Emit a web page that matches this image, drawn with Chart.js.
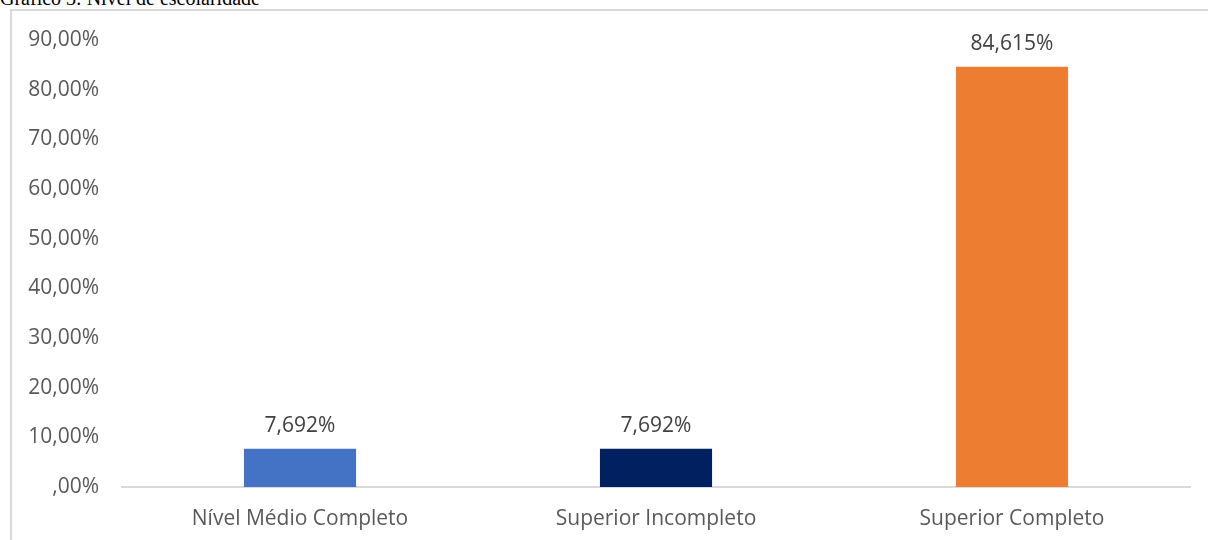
<!DOCTYPE html>
<html lang="pt">
<head>
<meta charset="utf-8">
<title>Gráfico 3: Nível de escolaridade</title>
<script src="https://cdn.jsdelivr.net/npm/chart.js@4.4.1/dist/chart.umd.min.js"></script>
<style>
  html, body { margin: 0; padding: 0; background: #ffffff; }
  body { width: 1208px; height: 540px; position: relative; overflow: hidden; }
  #caption {
    position: absolute; left: 0; top: -12px;
    font-family: "Liberation Serif", "Times New Roman", serif;
    font-size: 20px; line-height: 20px; color: #000; white-space: nowrap;
  }
  #frame {
    position: absolute; left: 10px; top: 9px; width: 1220px; height: 560px;
    border-left: 2px solid #d9d9d9; border-top: 2px solid #d9d9d9;
    box-sizing: border-box;
  }
  #wrap { position: absolute; left: 0; top: 0; width: 1208px; height: 540px; }
</style>
</head>
<body>
<div id="caption">Gráfico 3: Nível de escolaridade</div>
<div id="frame"></div>
<div id="wrap"><canvas id="chart" width="1208" height="540"></canvas></div>
<script>
// Escolaridade dos respondentes (percentual)
const categories = ["Nível Médio Completo", "Superior Incompleto", "Superior Completo"];
const percentValues = [7.692, 7.692, 84.615];
const barColors = ["#4472C4", "#002060", "#ED7D31"];
const yTicks = [0, 10, 20, 30, 40, 50, 60, 70, 80, 90];

const labelFont = '"Open Sans", "Noto Sans", sans-serif';
const labelSize = 21;

function formatTick(v) {
  if (v === 0) return ",00%";
  return v.toFixed(2).replace(".", ",") + "%";
}
function formatValue(v) {
  return v.toFixed(3).replace(".", ",") + "%";
}

// Writes each bar's value above it
const valueLabels = {
  id: "valueLabels",
  afterDatasetsDraw(chart) {
    const ctx = chart.ctx;
    const meta = chart.getDatasetMeta(0);
    ctx.save();
    ctx.font = labelSize + "px " + labelFont;
    ctx.fillStyle = "#404040";
    ctx.textAlign = "center";
    ctx.textBaseline = "middle";
    meta.data.forEach((bar, i) => {
      ctx.fillText(formatValue(chart.data.datasets[0].data[i]), bar.x, bar.y - 23);
    });
    ctx.restore();
  }
};

new Chart(document.getElementById("chart"), {
  type: "bar",
  data: {
    labels: categories,
    datasets: [{
      data: percentValues,
      backgroundColor: barColors,
      borderWidth: 0,
      categoryPercentage: 1,
      barPercentage: 0.315
    }]
  },
  options: {
    responsive: false,
    animation: false,
    devicePixelRatio: 1,
    layout: { padding: { top: 40, right: 18, left: 0, bottom: 0 } },
    plugins: { legend: { display: false }, tooltip: { enabled: false }, title: { display: false } },
    scales: {
      x: {
        grid: { display: false, drawTicks: false },
        border: { display: true, color: "#d9d9d9", width: 2 },
        ticks: { color: "#595959", font: { family: labelFont, size: labelSize }, padding: 19, maxRotation: 0 },
        afterFit(scale) { scale.height = 53; }
      },
      y: {
        min: 0,
        max: 90,
        grid: { display: false, drawTicks: false },
        border: { display: false },
        afterBuildTicks(scale) { scale.ticks = yTicks.map(v => ({ value: v })); },
        ticks: {
          color: "#595959",
          font: { family: labelFont, size: labelSize },
          padding: 23,
          callback: (v) => formatTick(v)
        },
        afterFit(scale) { scale.width = 122; }
      }
    }
  },
  plugins: [valueLabels]
});
</script>
</body>
</html>
